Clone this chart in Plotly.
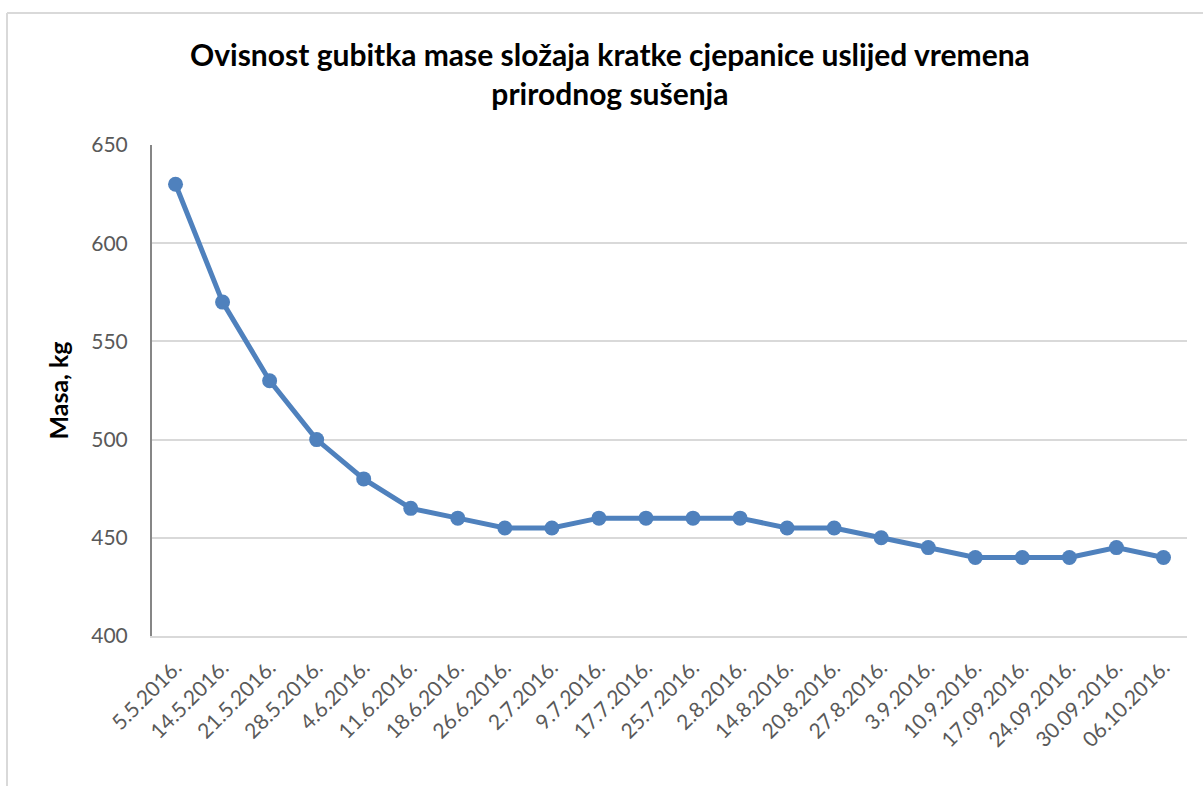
import plotly.graph_objects as go

dates = ["5.5.2016.", "14.5.2016.", "21.5.2016.", "28.5.2016.", "4.6.2016.", "11.6.2016.",
         "18.6.2016.", "26.6.2016.", "2.7.2016.", "9.7.2016.", "17.7.2016.", "25.7.2016.",
         "2.8.2016.", "14.8.2016.", "20.8.2016.", "27.8.2016.", "3.9.2016.", "10.9.2016.",
         "17.09.2016.", "24.09.2016.", "30.09.2016.", "06.10.2016."]
masa = [630, 570, 530, 500, 480, 465, 460, 455, 455, 460, 460, 460,
        460, 455, 455, 450, 445, 440, 440, 440, 445, 440]
y_ticks = [400, 450, 500, 550, 600, 650]

FONT = "Lato, Carlito, Calibri, 'Liberation Sans', sans-serif"
BLUE = "#4F81BD"

fig = go.Figure()
fig.add_trace(go.Scatter(
    x=list(range(len(dates))), y=masa, mode="lines+markers",
    line=dict(color=BLUE, width=5),
    marker=dict(color=BLUE, size=15),
    showlegend=False, hoverinfo="skip",
))

fig.update_layout(
    width=1203, height=786,
    paper_bgcolor="white", plot_bgcolor="white",
    margin=dict(l=152, r=16, t=145, b=150),
    font=dict(family=FONT, color="#595959", size=21),
    title=dict(
        text="<b>Ovisnost gubitka mase složaja kratke cjepanice uslijed vremena<br>prirodnog sušenja</b>",
        x=0.507, xanchor="center", y=0.9166, yanchor="middle",
        font=dict(family=FONT, size=30, color="black"),
    ),
    xaxis=dict(
        tickmode="array", tickvals=list(range(len(dates))), ticktext=dates,
        range=[-0.5, len(dates) - 0.5], tickangle=-45,
        showgrid=False, showline=True, linecolor="#d9d9d9", linewidth=2,
        ticks="", zeroline=False, ticklabelstandoff=9,
        tickfont=dict(family=FONT, size=21, color="#595959"),
    ),
    yaxis=dict(
        range=[400, 650], tickvals=y_ticks,
        showgrid=True, gridcolor="#d9d9d9", gridwidth=2,
        showline=True, linecolor="#868686", linewidth=2,
        ticks="", zeroline=False, ticklabelstandoff=18,
        tickfont=dict(family=FONT, size=21, color="#595959"),
        title=dict(text="<b>Masa, kg</b>", standoff=16,
                   font=dict(family=FONT, size=25, color="black")),
    ),
    shapes=[
        dict(type="line", xref="paper", yref="paper", x0=-145/1035, x1=(1203-152)/1035,
             y0=1 + 132/491, y1=1 + 132/491, line=dict(color="#d9d9d9", width=2)),
        dict(type="line", xref="paper", yref="paper", x0=-145/1035, x1=-145/1035,
             y0=1 + 132/491, y1=-150/491, line=dict(color="#d9d9d9", width=2)),
    ],
)

fig.write_html("out.html", config={"displayModeBar": False, "staticPlot": True},
               post_script="document.body.style.margin='0';")
